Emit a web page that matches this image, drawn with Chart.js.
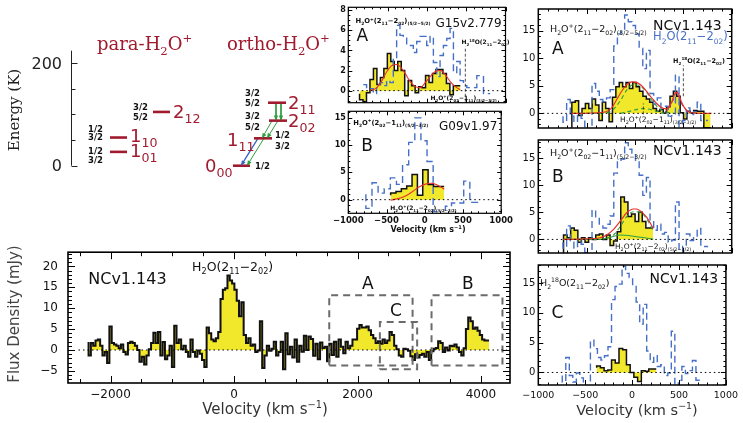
<!DOCTYPE html>
<html>
<head>
<meta charset="utf-8">
<script src="https://cdn.jsdelivr.net/npm/chart.js@4.4.1/dist/chart.umd.min.js"></script>
<style>
  body { margin: 0; background: #fff; }
  #wrap { position: relative; width: 743px; height: 423px; overflow: hidden; background: #fff; }
  canvas { position: absolute; }
</style>
</head>
<body>
<div id="wrap">
  <canvas id="energy" width="335" height="200" style="left:0;top:0"></canvas>
  <canvas id="main" width="520" height="188" style="left:0;top:235px"></canvas>
  <canvas id="g15" width="190" height="110" style="left:325px;top:0"></canvas>
  <canvas id="g09" width="190" height="131" style="left:325px;top:104px"></canvas>
  <canvas id="ncA" width="228" height="137" style="left:515px;top:0"></canvas>
  <canvas id="ncB" width="228" height="131" style="left:515px;top:131px"></canvas>
  <canvas id="ncC" width="228" height="167" style="left:515px;top:256px"></canvas>
</div>
<script>
const FONT = "'DejaVu Sans', sans-serif";
const SERIF = "'DejaVu Serif', serif";
const YELLOW = '#f1e82b';
const BLUE = '#4670c8';
const RED = '#e8302c';
const GREEN = '#2f9e3c';
const PURPLE = '#9b3fa0';
const DARKRED = '#a11a2e';

// ---- main NCv1.143 spectrum (mJy), 37.5 km/s channels
const mainStart = -2357, mainWidth = 37.5;
const mainFlux = [
  1.9, -1.3, 1.7, 1.0, 2.3, 2.5, 1.0, -1.3, -0.5, -3.1,
  5.6, 1.7, 1.3, 1.0, 0.4, 1.3, -0.5, -1.1, 1.7, 2.0,
  1.7, 1.0, 0.0, -2.8, -1.6, -3.5, -1.3, 0.2, 1.7, 4.1,
  1.7, 4.3, -1.3, 1.9, -2.2, -1.3, 1.0, -4.1, 5.8, 1.7,
  2.5, 0.2, 1.0, -0.5, -1.6, 2.5, -0.5, -1.6, -0.1, -0.9,
  -2.4, -4.1, 5.4, 4.0, 2.5, 2.1, 2.8, 4.3, 12.2, 14.4,
  14.8, 17.8, 16.6, 15.9, 14.4, 11.8, 8.1, 11.4, 3.6, 1.7,
  2.8, 1.0, 1.3, -0.5, -0.1, 6.9, -4.3, -1.3, 1.0, -0.2,
  0.3, 2.0, -1.3, -0.5, 2.0, -4.6, 4.0, -1.0, 0.8, -1.8,
  2.5, -2.8, 1.0, -0.4, 3.4, 0.0, 3.2, 2.6, -1.4, 1.5,
  -2.2, 1.8, 0.5, 0.8, -2.7, 1.5, -1.2, 2.0, -1.6, 2.5,
  0.8, -0.8, 2.0, 0.4, 1.0, 2.5, 2.5, 5.1, 6.0, 5.4,
  5.4, 5.6, 4.7, 3.6, 2.8, 1.7, 2.1, 1.5, 2.5, 1.7,
  2.3, 4.3, 3.6, 1.0, 0.2, -1.3, -1.6, 0.3, 0.2, -0.2,
  -1.5, -2.4, -1.0, -1.8, -1.2, -0.9, -1.6, -0.5, -2.4, -0.3,
  0.3, 0.5, 2.1, 1.7, -0.5, 0.6, -0.1, 1.0, 0.9, 1.3,
  0.6, -0.5, -1.3, 0.4, 5.0, 7.8, 6.9, 5.1, 5.4, 4.6,
  3.6, 2.5, 2.3
];
const mainXTicks = [-2000, 0, 2000, 4000];
const mainYTicks = [-5, 0, 5, 10, 15, 20];
// dashed boxes: [v1, v2, f1, f2]
const boxA = [1542, 2892, -3.7, 13.1];
const boxC = [2362, 2966, -4.6, 6.7];
const boxB = [3199, 4348, -3.7, 13.1];

// ---- G15v2.779 (A)
const g15Start = -857, g15Width = 44.2;
const g15Flux = [-0.3, -0.9, -1.1, -0.2, 1.1, 2.2, 0.6, 1.3, 2.2, 3.7, 2.9, 2.0, 2.9, 2.0, -0.5,
  1.0, 0.5, -0.2, 0.4, 0.3, 1.5, 0.8, 1.7, 2.1, 2.1, 1.7, 0.7, -0.4, 0.5];
const g15BlueStart = -810, g15BlueWidth = 42.5;
const g15Blue = [0.6, 0.6, 0.3, 0.2, -0.3, 0.6, 0.8, 0.5, 1.0, 0.8, 3.2, 6.5, 5.5, 5.4, 4.5, 4.5, 3.8,
  4.9, 5.4, 5.4, 4.5, 5.4, 2.8, 1.4, 3.5, 4.5, 5.2, 6.2, 1.8, 2.9, 1.0, 0.5, 0.3, 0.3, 0.3, 1.5, 1.5, -0.3];
const g15FitV = [-721, -636, -573, -509, -445, -390, -339, -276, -212, -148, -85, -21, 42, 106, 170, 233, 297, 361, 424];
const g15FitF = [0, 0.3, 1.0, 1.9, 2.5, 2.6, 2.4, 1.7, 0.9, 0.4, 0.3, 0.8, 1.4, 1.9, 2.0, 1.6, 0.9, 0.4, 0.1];
const g15YTicks = [0, 2, 4, 6, 8];

// ---- G09v1.97 (B)
const g09Start = -446, g09Width = 70;
const g09Flux = [0.8, 1.2, 1.5, 2.0, 2.5, 4.6, 0.8, 5.5, 2.8, 2.4];
const g09BlueStart = -770, g09BlueWidth = 80;
const g09Blue = [1.0, -1.6, 3.1, 1.2, 2.0, 4.0, 2.8, 6.4, 10.5, 15.0, 10.8, 7.0, -2.2, -2.8, -1.2, -0.6, -0.6, 3.4, -0.5];
const g09FitV = [-446, -380, -319, -234, -149, -64, 21, 85, 148, 212, 255];
const g09FitF = [-0.1, 0.1, 0.3, 0.8, 1.6, 2.4, 2.9, 3.0, 2.8, 2.3, 1.9];
const g09YTicks = [0, 5, 10, 15];

// ---- NCv1.143 zooms A, B, C
const ncAStart = -653, ncAWidth = 35;
const ncAFlux = [-2.6, 2.0, 2.3, -0.4, 0.9, 1.8, 0.9, 2.6, 1.5, -1.3, 2.0, 0.9, -1.5, 2.9, 4.8, 5.6, 4.8, 5.6,
  4.5, 5.6, 4.8, 4.0, 3.1, 2.6, 2.0, 0.9, 0.4, 0.7, 0.1, 1.2, 3.1, 4.0, 3.1, 0.1, -1.0, 0.4, 0.1, 0.5, 0.4, 0.4, -2.6];
const ncAFitV = [-655, -327, -241, -189, -138, -86, -34, 17, 69, 120, 172, 224, 276, 327, 379, 420, 448, 482, 534, 603, 792];
const ncAFitF = [0, 0.2, 1.0, 2.5, 4.0, 5.2, 5.7, 5.6, 5.0, 4.0, 2.8, 1.8, 1.0, 0.8, 2.0, 3.8, 3.6, 2.0, 0.5, 0.1, 0];
const ncACompV = [-655, -327, -241, -155, -86, -17, 52, 120, 189, 258, 327, 400];
const ncACompF = [0, 0.05, 0.5, 2.2, 4.2, 5.2, 5.0, 3.8, 2.0, 0.8, 0.2, 0];
const ncAWeakV = [-150, -50, 40, 86, 130, 220, 300];
const ncAWeakF = [0, 0.4, 0.8, 0.85, 0.8, 0.4, 0];
const ncAIsoV = [300, 380, 430, 480, 560];
const ncAIsoF = [0, 1.8, 3.7, 1.8, 0];

const ncBStart = -739, ncBWidth = 37;
const ncBFlux = [-2.5, 0.8, 0.3, 2.1, 1.7, -0.5, 0.3, -0.5, 0.3, 0.0, 0.8, 1.0, 0.0, 0.8, -1.1, -0.3, 1.4,
  7.8, 6.9, 4.2, 4.7, 3.3, 5.0, 3.3, 2.1];
const ncBFitV = [-741, -500, -362, -293, -224, -155, -86, -17, 17, 52, 120, 189];
const ncBFitF = [0, 0.1, 0.3, 0.8, 1.8, 3.3, 4.9, 5.6, 5.6, 5.3, 4.1, 2.0];
const ncBCompV = [-293, -224, -155, -86, -17, 52, 120, 189];
const ncBCompF = [0.2, 0.8, 2.3, 4.2, 5.1, 5.0, 3.8, 1.6];
const ncBWeakV = [-741, -360, -250, -155, 0, 100, 189];
const ncBWeakF = [0, 0, 0.4, 0.8, 0.55, 0.3, 0.05];

const ncCStart = -378, ncCWidth = 39.7;
const ncCFlux = [0.8, 1.1, 0.8, 0.3, 0.4, 2.1, 1.6, 4.0, 3.8, 1.3, 0.0, -0.8, -1.5, 0.3, 0.2, 0.6];

const velTicks = [-1000, -500, 0, 500, 1000];
const ncYTicks = [0, 5, 10, 15];

// ---- energy diagram (K); columns are schematic positions
const levelName = ['1_{01}', '1_{10}', '2_{12}', '0_{00}', '1_{11}', '2_{02}', '2_{11}'];
const levelE = [27, 55, 105, 0, 53.5, 88, 123];
const levelCol = [[39.3, 56.3], [39.3, 56.3], [82.3, 99.3], [162.3, 179.3], [183.3, 201.3], [198.3, 216.3], [197.3, 215.3]];
const levelLabelPos = [[59.3, 17], [59.3, 46.9], [102.3, 93], [134.3, -12.3], [156.3, 38.5], [217.3, 75.6], [217.3, 110.7]];
const greenArrows = [[205.3, 123, 205.3, 88], [210.3, 123, 210.3, 88], [201.3, 88, 191.3, 53.5],
  [207.3, 88, 196.3, 53.5], [193.3, 53.5, 176.3, 0]];
const blueArrows = [[187.3, 53.5, 170.3, 0]];
const spins = [
  ['1/2', 17.3, 71.5], ['3/2', 17.3, 56], ['1/2', 17.3, 28.7], ['3/2', 17.3, 11.1],
  ['3/2', 62.3, 115], ['5/2', 62.3, 95.7],
  ['3/2', 174.3, 143], ['5/2', 174.3, 121.9], ['3/2', 174.3, 97.7], ['5/2', 174.3, 76.2],
  ['1/2', 204.3, 60], ['3/2', 204.3, 39], ['1/2', 184.3, 0]
];

Chart.defaults.font.family = FONT;

// ---------- helpers
function hist(start, width, vals) {
  const pts = vals.map((v, i) => ({ x: start + i * width, y: v }));
  pts.push({ x: start + vals.length * width, y: vals[vals.length - 1] });
  return pts;
}
function curve(xs, ys) { return xs.map((x, i) => ({ x: x, y: ys[i] })); }

function parseRich(str) {
  const out = [];
  let buf = '', i = 0;
  while (i < str.length) {
    const c = str[i];
    if (c === '_' || c === '^') {
      if (buf) { out.push({ t: buf, m: 0 }); buf = ''; }
      const m = c === '_' ? 1 : 2;
      if (str[i + 1] === '{') {
        const j = str.indexOf('}', i);
        out.push({ t: str.slice(i + 2, j), m: m });
        i = j + 1;
      } else { out.push({ t: str[i + 1], m: m }); i += 2; }
    } else { buf += c; i++; }
  }
  if (buf) out.push({ t: buf, m: 0 });
  return out;
}
function drawRich(ctx, str, x, y, o) {
  const size = o.size, fam = o.family || FONT, wt = o.weight || 'normal';
  const sub = size * (o.sub || 0.65);
  const parts = parseRich(str);
  const fontFor = m => wt + ' ' + (m ? sub : size) + 'px ' + fam;
  let w = 0;
  parts.forEach(p => { ctx.font = fontFor(p.m); p.w = ctx.measureText(p.t).width; w += p.w; });
  let cx = o.align === 'center' ? x - w / 2 : o.align === 'right' ? x - w : x;
  ctx.fillStyle = o.color || '#111';
  ctx.textAlign = 'left';
  ctx.textBaseline = 'alphabetic';
  parts.forEach(p => {
    ctx.font = fontFor(p.m);
    const dy = p.m === 1 ? size * 0.3 : p.m === 2 ? -size * 0.42 : 0;
    ctx.fillText(p.t, cx, y + dy);
    cx += p.w;
  });
}

function notesPlugin(items) {
  return {
    id: 'notes',
    afterDraw(chart) {
      const { ctx, scales } = chart;
      items.forEach(n => {
        let px = n.pix ? n.x : scales.x.getPixelForValue(n.x);
        let py = n.pix ? n.y : scales.y.getPixelForValue(n.y);
        if (n.mid) py += n.size * 0.36;
        ctx.save();
        if (n.rot) { ctx.translate(px, py); ctx.rotate(n.rot * Math.PI / 180); px = 0; py = 0; }
        drawRich(ctx, n.t, px, py, n);
        ctx.restore();
      });
    }
  };
}

function framePlugin(f) {
  return {
    id: 'frame',
    afterDatasetsDraw(chart) {
      const { ctx, chartArea: a, scales: { x, y } } = chart;
      ctx.save();
      ctx.strokeStyle = '#000';
      ctx.lineWidth = 1;
      ctx.setLineDash([]);
      ctx.beginPath();
      const marks = (sc, step, len, horiz) => {
        for (let k = Math.ceil(sc.min / step - 1e-6); k * step <= sc.max + 1e-6; k++) {
          const p = Math.round(sc.getPixelForValue(k * step)) + 0.5;
          if (horiz) {
            ctx.moveTo(p, a.bottom); ctx.lineTo(p, a.bottom - len);
            ctx.moveTo(p, a.top); ctx.lineTo(p, a.top + len);
          } else {
            ctx.moveTo(a.left, p); ctx.lineTo(a.left + len, p);
            ctx.moveTo(a.right, p); ctx.lineTo(a.right - len, p);
          }
        }
      };
      marks(x, f.xMin, f.mlen, true); marks(x, f.xMaj, f.len, true);
      marks(y, f.yMin, f.mlen, false); marks(y, f.yMaj, f.len, false);
      ctx.stroke();
      ctx.lineWidth = f.lw;
      ctx.strokeRect(a.left, a.top, a.right - a.left, a.bottom - a.top);
      ctx.restore();
    }
  };
}

function axis(o) {
  return {
    type: 'linear', min: o.min, max: o.max, display: o.display !== false,
    grid: { display: false, drawTicks: false },
    border: { display: false },
    ticks: {
      display: !!o.ticks, font: o.font, color: '#111', padding: o.pad || 3,
      maxRotation: 0, autoSkip: false,
      callback: v => String(v).replace('-', '\u2212')
    },
    afterBuildTicks: s => { if (o.ticks) s.ticks = o.ticks.map(v => ({ value: v })); },
    afterFit: s => {
      if (o.size != null) { if (s.isHorizontal()) s.height = o.size; else s.width = o.size; }
    }
  };
}

const yellowDs = (pts, lw) => ({ data: pts, stepped: 'after', borderColor: '#111', borderWidth: lw,
  backgroundColor: YELLOW, fill: 'origin', pointRadius: 0, order: 5 });
const blueDs = pts => ({ data: pts, stepped: 'after', borderColor: BLUE, borderWidth: 1.4,
  borderDash: [7, 4], fill: false, pointRadius: 0, order: 4 });
const smoothDs = (pts, color, dash, lw) => ({ data: pts, borderColor: color, borderWidth: lw || 1.1,
  borderDash: dash || [], cubicInterpolationMode: 'monotone', fill: false, pointRadius: 0, order: 2 });
const zeroDs = (x0, x1) => ({ data: [{ x: x0, y: 0 }, { x: x1, y: 0 }], borderColor: '#000',
  borderWidth: 1, borderDash: [1.5, 3], fill: false, pointRadius: 0, order: 0 });
const vmarkDs = (v, y0, y1) => ({ data: [{ x: v, y: y0 }, { x: v, y: y1 }], borderColor: '#222',
  borderWidth: 0.8, borderDash: [3, 2], fill: false, pointRadius: 0, order: 1 });
const rectDs = b => ({ data: [{ x: b[0], y: b[2] }, { x: b[1], y: b[2] }, { x: b[1], y: b[3] },
  { x: b[0], y: b[3] }, { x: b[0], y: b[2] }], borderColor: '#6b6b6b', borderWidth: 2,
  borderDash: [7, 5], fill: false, pointRadius: 0, order: 0 });

function panel(id, c) {
  return new Chart(document.getElementById(id), {
    type: 'line',
    data: { datasets: c.datasets },
    options: {
      responsive: false, animation: false, devicePixelRatio: 1,
      layout: { padding: c.pad },
      plugins: { legend: { display: false }, tooltip: { enabled: false } },
      scales: { x: axis(c.x), y: axis(c.y) }
    },
    plugins: [framePlugin(c.frame), notesPlugin(c.notes)]
  });
}

// ---------- energy level diagram
const energyDatasets = [];
levelE.forEach((e, i) => energyDatasets.push({
  data: [{ x: levelCol[i][0], y: e }, { x: levelCol[i][1], y: e }],
  borderColor: DARKRED, borderWidth: 2.6, pointRadius: 0, clip: false
}));
greenArrows.forEach(a => energyDatasets.push({
  data: [{ x: a[0], y: a[1] }, { x: a[2], y: a[3] }], borderColor: GREEN, borderWidth: 1,
  pointRadius: 0, clip: false, arrow: true
}));
blueArrows.forEach(a => energyDatasets.push({
  data: [{ x: a[0], y: a[1] }, { x: a[2], y: a[3] }], borderColor: '#3a62c4', borderWidth: 1.3,
  pointRadius: 0, clip: false, arrow: true
}));

const energyNotes = [
  { t: 'para-H_2O^+', x: 26.3, y: 226, size: 18, family: SERIF, color: DARKRED },
  { t: 'ortho-H_2O^+', x: 156.3, y: 226, size: 18, family: SERIF, color: DARKRED },
  { t: 'Energy (K)', x: 19, y: 110, pix: true, rot: -90, size: 15, family: SERIF, align: 'center', color: '#222' },
  { t: '200', x: -8.7, y: 200, size: 16, align: 'right', mid: true, color: '#222' },
  { t: '0', x: -8.7, y: 0, size: 16, align: 'right', mid: true, color: '#222' }
];
levelName.forEach((n, i) => energyNotes.push({ t: n, x: levelLabelPos[i][0], y: levelLabelPos[i][1],
  size: 18, sub: 0.7, color: DARKRED }));
spins.forEach(s => energyNotes.push({ t: s[0], x: s[1], y: s[2], size: 8.5, weight: 'bold', mid: true, color: '#111' }));

const energyAxis = {
  id: 'eaxis',
  afterDraw(chart) {
    const { ctx, chartArea: a, scales: { y } } = chart;
    ctx.save();
    ctx.strokeStyle = '#222';
    ctx.lineWidth = 1;
    ctx.beginPath();
    const x0 = Math.round(a.left) + 0.5;
    ctx.moveTo(x0, a.top); ctx.lineTo(x0, y.getPixelForValue(0));
    [0, 50, 100, 150, 200].forEach(v => {
      const p = Math.round(y.getPixelForValue(v)) + 0.5;
      ctx.moveTo(x0, p); ctx.lineTo(x0 + (v % 100 === 0 && v !== 100 ? 6 : 4), p);
    });
    ctx.stroke();
    chart.data.datasets.forEach((ds, i) => {
      if (!ds.arrow) return;
      const pts = chart.getDatasetMeta(i).data;
      const p1 = pts[pts.length - 1], p0 = pts[pts.length - 2];
      const ang = Math.atan2(p1.y - p0.y, p1.x - p0.x);
      ctx.fillStyle = ds.borderColor;
      ctx.beginPath();
      ctx.moveTo(p1.x, p1.y);
      ctx.lineTo(p1.x - 5.5 * Math.cos(ang - 0.4), p1.y - 5.5 * Math.sin(ang - 0.4));
      ctx.lineTo(p1.x - 5.5 * Math.cos(ang + 0.4), p1.y - 5.5 * Math.sin(ang + 0.4));
      ctx.closePath();
      ctx.fill();
    });
    ctx.restore();
  }
};

new Chart(document.getElementById('energy'), {
  type: 'line',
  data: { datasets: energyDatasets },
  options: {
    responsive: false, animation: false, devicePixelRatio: 1,
    layout: { padding: { left: 70.7, right: 0, top: 50.7, bottom: 34.3 } },
    plugins: { legend: { display: false }, tooltip: { enabled: false } },
    scales: {
      x: { type: 'linear', display: false, min: 0, max: 264.3 },
      y: { type: 'linear', display: false, min: 0, max: 224.6 }
    }
  },
  plugins: [energyAxis, notesPlugin(energyNotes)]
});

// ---------- main spectrum
panel('main', {
  pad: { top: 8, right: 10, left: 0, bottom: 0 },
  x: { min: -2690, max: 4470, ticks: mainXTicks, font: { size: 12 }, size: 40, pad: 5 },
  y: { min: -7.9, max: 23.4, ticks: mainYTicks, font: { size: 12 }, size: 68, pad: 10 },
  frame: { lw: 1.6, xMaj: 2000, xMin: 500, yMaj: 5, yMin: 1, len: 7, mlen: 4 },
  datasets: [
    yellowDs(hist(mainStart, mainWidth, mainFlux), 2),
    zeroDs(-2520, 4420),
    rectDs(boxA), rectDs(boxC), rectDs(boxB)
  ],
  notes: [
    { t: 'NCv1.143', x: -2362, y: 15.8, size: 16 },
    { t: 'H_2O(2_{11}\u22122_{02})', x: -680, y: 19.0, size: 12.5 },
    { t: 'A', x: 2168, y: 14.5, size: 17, align: 'center' },
    { t: 'C', x: 2621, y: 8.1, size: 17, align: 'center' },
    { t: 'B', x: 3786, y: 14.5, size: 17, align: 'center' },
    { t: 'Velocity (km s^{\u22121})', x: 265, y: 179, pix: true, size: 15, align: 'center', color: '#333' },
    { t: 'Flux Density (mJy)', x: 19, y: 79, pix: true, rot: -90, size: 15, align: 'center', color: '#444' }
  ]
});

// ---------- G15v2.779
panel('g15', {
  pad: { top: 4, right: 9.5, left: 0, bottom: 2 },
  x: { min: -1000, max: 1000, display: false },
  y: { min: -1.2, max: 8.3, ticks: g15YTicks, font: { size: 8, weight: 'bold' }, size: 23.3, pad: 2.5 },
  frame: { lw: 1.2, xMaj: 500, xMin: 100, yMaj: 2, yMin: 0.5, len: 4, mlen: 2 },
  datasets: [
    yellowDs(hist(g15Start, g15Width, g15Flux), 1.5),
    blueDs(hist(g15BlueStart, g15BlueWidth, g15Blue)),
    smoothDs(curve(g15FitV, g15FitF), RED),
    vmarkDs(489, -1.1, 4.4),
    zeroDs(-1000, 1000)
  ],
  notes: [
    { t: 'H_2O^+(2_{11}\u22122_{02})_{(5/2\u22125/2)}', x: -908, y: 6.7, size: 6.8, weight: 'bold' },
    { t: 'G15v2.779', x: 950, y: 6.3, size: 12, align: 'right' },
    { t: 'A', x: -897, y: 4.9, size: 17 },
    { t: 'H_2^{18}O(2_{11}\u22122_{02})', x: 441, y: 4.6, size: 6, weight: 'bold' },
    { t: 'H_2O^+(2_{02}\u22121_{11})_{(3/2\u22123/2)}', x: 46, y: -0.95, size: 6, weight: 'bold' }
  ]
});

// ---------- G09v1.97
panel('g09', {
  pad: { top: 4, right: 9.5, left: 0, bottom: 0 },
  x: { min: -1000, max: 1000, ticks: velTicks, font: { size: 8.5, weight: 'bold' }, size: 21.7, pad: 2 },
  y: { min: -2.5, max: 16.2, ticks: g09YTicks, font: { size: 8, weight: 'bold' }, size: 23.3, pad: 2.5 },
  frame: { lw: 1.2, xMaj: 500, xMin: 100, yMaj: 5, yMin: 1, len: 4, mlen: 2 },
  datasets: [
    yellowDs(hist(g09Start, g09Width, g09Flux), 1.5),
    blueDs(hist(g09BlueStart, g09BlueWidth, g09Blue)),
    smoothDs(curve(g09FitV, g09FitF), RED),
    zeroDs(-1000, 1000)
  ],
  notes: [
    { t: 'H_2O^+(2_{02}\u22121_{11})_{(5/2\u22123/2)}', x: -935, y: 13.75, size: 6.8, weight: 'bold' },
    { t: 'G09v1.97', x: 950, y: 12.8, size: 12, align: 'right' },
    { t: 'B', x: -832, y: 8.95, size: 17 },
    { t: 'H_2O^+(2_{11}\u22122_{02})_{(5/2\u22123/2)}', x: -450, y: -1.9, size: 6, weight: 'bold' },
    { t: 'Velocity (km s^{\u22121})', x: 103, y: 128, pix: true, size: 8, weight: 'bold', align: 'center' }
  ]
});

// ---------- NCv1.143 panels: the H2O line itself from the main spectrum
const h2oIdx = mainFlux.map((v, i) => i).filter(i => {
  const c = mainStart + (i + 0.5) * mainWidth;
  return c > -760 && c < 760;
});
const h2oStart = mainStart + h2oIdx[0] * mainWidth;
const h2oFlux = h2oIdx.map(i => mainFlux[i]);

const ncFrame = { lw: 1.5, xMaj: 500, xMin: 100, yMaj: 5, yMin: 1, len: 5, mlen: 2.5 };
const ncY = (min, max) => ({ min: min, max: max, ticks: ncYTicks, font: { size: 10 }, size: 23.3, pad: 3 });

panel('ncA', {
  pad: { top: 4, right: 11.3, left: 0, bottom: 2 },
  x: { min: -1000, max: 1000, display: false },
  y: ncY(-2.65, 18.9),
  frame: ncFrame,
  datasets: [
    yellowDs(hist(ncAStart, ncAWidth, ncAFlux), 1.5),
    blueDs(hist(h2oStart, mainWidth, h2oFlux)),
    smoothDs(curve(ncAFitV, ncAFitF), RED, [], 1.2),
    smoothDs(curve(ncACompV, ncACompF), GREEN, [4, 3]),
    smoothDs(curve(ncAWeakV, ncAWeakF), GREEN, [4, 3]),
    smoothDs(curve(ncAIsoV, ncAIsoF), PURPLE, [4, 3]),
    vmarkDs(500, 3.1, 8.7),
    vmarkDs(86, -0.2, 1.8),
    zeroDs(-1000, 1000)
  ],
  notes: [
    { t: 'H_2O^+(2_{11}\u22122_{02})_{(5/2\u22125/2)}', x: -879, y: 14.7, size: 9.5 },
    { t: 'NCv1.143', x: 186, y: 15.1, size: 14 },
    { t: 'H_2O(2_{11}\u22122_{02})', x: 186, y: 13.2, size: 11.5, color: BLUE },
    { t: 'A', x: -858, y: 10.8, size: 17 },
    { t: 'H_2^{18}O(2_{11}\u22122_{02})', x: 393, y: 9.1, size: 6.5, weight: 'bold' },
    { t: 'H_2O^+(2_{02}\u22121_{11})_{(3/2\u22123/2)}', x: -155, y: -1.6, size: 7.5 }
  ]
});

panel('ncB', {
  pad: { top: 4, right: 11.3, left: 0, bottom: 2 },
  x: { min: -1000, max: 1000, display: false },
  y: ncY(-2.5, 18.3),
  frame: ncFrame,
  datasets: [
    yellowDs(hist(ncBStart, ncBWidth, ncBFlux), 1.5),
    blueDs(hist(h2oStart, mainWidth, h2oFlux)),
    smoothDs(curve(ncBFitV, ncBFitF), RED, [], 1.2),
    smoothDs(curve(ncBCompV, ncBCompF), GREEN, [4, 3]),
    smoothDs(curve(ncBWeakV, ncBWeakF), GREEN, []),
    zeroDs(-1000, 1000)
  ],
  notes: [
    { t: 'H_2O^+(2_{02}\u22121_{11})_{(5/2\u22123/2)}', x: -879, y: 15.3, size: 9.5 },
    { t: 'NCv1.143', x: 186, y: 15.5, size: 14 },
    { t: 'B', x: -858, y: 10.6, size: 17 },
    { t: 'H_2O^+(2_{11}\u22122_{02})_{(5/2\u22123/2)}', x: -207, y: -1.7, size: 7.5 }
  ]
});

panel('ncC', {
  pad: { top: 4, right: 11.3, left: 0, bottom: 0 },
  x: { min: -1000, max: 1000, ticks: velTicks, font: { size: 9.5 }, size: 38, pad: 5 },
  y: ncY(-2.1, 18),
  frame: ncFrame,
  datasets: [
    yellowDs(hist(ncCStart, ncCWidth, ncCFlux), 1.5),
    blueDs(hist(h2oStart, mainWidth, h2oFlux)),
    zeroDs(-1000, 1000)
  ],
  notes: [
    { t: 'H_2^{18}O(2_{11}\u22122_{02})', x: -982, y: 14.5, size: 9.5 },
    { t: 'NCv1.143', x: 186, y: 15.0, size: 14 },
    { t: 'C', x: -858, y: 9.1, size: 17 },
    { t: 'Velocity (km s^{\u22121})', x: 122, y: 159, pix: true, size: 14.5, align: 'center', color: '#333' }
  ]
});
</script>
</body>
</html>
